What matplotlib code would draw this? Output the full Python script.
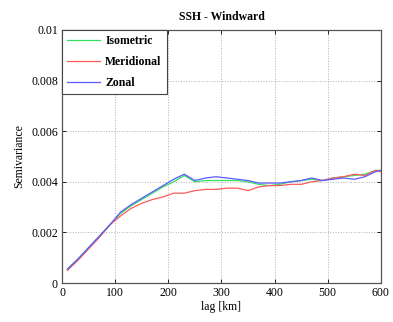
import numpy as np
import matplotlib
matplotlib.use('Agg')
import matplotlib.pyplot as plt

lag = [10, 30, 50, 70, 90, 110, 130, 150, 170, 190, 210, 230, 250, 270, 290,
       310, 330, 350, 370, 390, 410, 430, 450, 470, 490, 510, 530, 550, 570, 590, 600]
isometric = [0.55, 0.95, 1.4, 1.85, 2.3, 2.75, 3.05, 3.3, 3.55, 3.8, 4.0, 4.25, 4.0, 4.05, 4.05,
             4.05, 4.05, 4.0, 3.9, 3.85, 3.9, 4.0, 4.05, 4.1, 4.05, 4.15, 4.2, 4.25, 4.3, 4.45, 4.45]
meridional = [0.5, 0.9, 1.35, 1.8, 2.3, 2.65, 2.95, 3.15, 3.3, 3.4, 3.55, 3.55, 3.65, 3.7, 3.7,
              3.75, 3.75, 3.65, 3.8, 3.85, 3.85, 3.9, 3.9, 4.0, 4.05, 4.15, 4.2, 4.3, 4.25, 4.45, 4.4]
zonal = [0.55, 0.95, 1.4, 1.85, 2.3, 2.8, 3.1, 3.35, 3.6, 3.85, 4.1, 4.3, 4.05, 4.15, 4.2,
         4.15, 4.1, 4.05, 3.95, 3.95, 3.95, 4.0, 4.05, 4.15, 4.05, 4.1, 4.15, 4.1, 4.2, 4.4, 4.45]

xticks = [0, 100, 200, 300, 400, 500, 600]
yticks = [0, 0.002, 0.004, 0.006, 0.008, 0.01]
ytick_labels = ['0', '0.002', '0.004', '0.006', '0.008', '0.01']

plt.rcParams['font.family'] = ['Liberation Serif', 'DejaVu Serif']
plt.rcParams['font.size'] = 8.5

fig = plt.figure(figsize=(3.93, 3.22), dpi=100)
ax = fig.add_axes([0.158, 0.121, 0.811, 0.786])

scale = 1e-3
ax.plot(lag, np.array(isometric) * scale, color='#33e060', lw=0.9, label='Isometric')
ax.plot(lag, np.array(meridional) * scale, color='#ff5a5a', lw=0.9, label='Meridional')
ax.plot(lag, np.array(zonal) * scale, color='#5a5aff', lw=0.9, label='Zonal')

ax.set_xlim(0, 600)
ax.set_ylim(0, 0.01)
ax.set_xticks(xticks)
ax.set_yticks(yticks)
ax.set_yticklabels(ytick_labels)
ax.tick_params(direction='in', top=True, right=True, length=3, width=0.6, pad=3)
ax.grid(True, linestyle=':', color='#b0b0b0', lw=0.7)
for s in ax.spines.values():
    s.set_color('#555555')
    s.set_linewidth(0.9)

ax.set_title('SSH - Windward', fontweight='bold', fontsize=8.5, pad=7)
ax.set_xlabel('lag [km]', labelpad=1)
ax.set_ylabel('Semivariance', labelpad=4)

leg = ax.legend(loc='upper left', fancybox=False, framealpha=1, edgecolor='#444444',
                borderaxespad=0, handlelength=2.8, handletextpad=0.4,
                prop={'weight': 'bold', 'size': 8.5},
                borderpad=0.45, labelspacing=0.75)
leg.get_frame().set_linewidth(0.8)

plt.savefig('out.png', dpi=100)
